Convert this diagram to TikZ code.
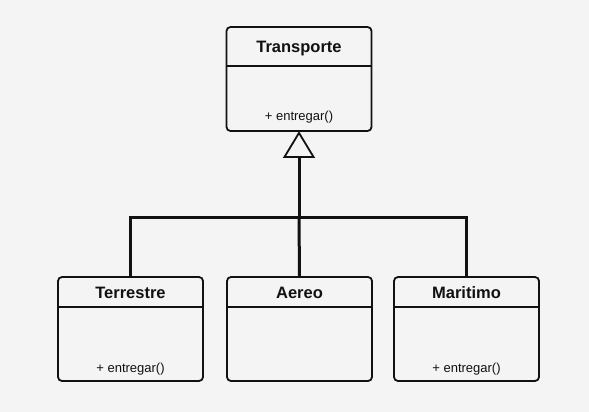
\documentclass[tikz,border=0pt]{standalone}
\usepackage{fontspec}
\setmainfont{Liberation Sans}
\definecolor{bg}{HTML}{F4F4F4}
\definecolor{ink}{HTML}{111111}
\begin{document}
\begin{tikzpicture}[x=1pt,y=1pt,
  cls/.style={draw=ink, line width=1.8pt, fill=bg, rounded corners=4pt, minimum width=145pt, minimum height=104pt, inner sep=0pt},
  title/.style={font=\fontsize{16.5}{19}\selectfont\bfseries, text=ink, inner sep=0pt, anchor=base},
  meth/.style={font=\fontsize{13}{15}\selectfont, text=ink, inner sep=0pt, anchor=base},
  div/.style={draw=ink, line width=1.3pt},
  conn/.style={draw=ink, line width=3pt, line join=miter},
  gen/.style={draw=ink, line width=1.8pt, fill=bg, line join=miter}]
\useasboundingbox[fill=bg] (0,0) rectangle (589,-412);
% parent class
\node[cls] (T) at (299,-79) {};
\node[title] (Tt) at ([yshift=-26pt]T.north) {Transporte};
\draw[div] ([yshift=-40pt]T.north west) -- ([yshift=-40pt]T.north east);
\node[meth] (Tm) at ([yshift=11.5pt]T.south) {+ entregar()};
% children
\node[cls] (Te) at (130.5,-329) {};
\node[title] (Tet) at ([yshift=-22pt]Te.north) {Terrestre};
\draw[div] ([yshift=-31pt]Te.north west) -- ([yshift=-31pt]Te.north east);
\node[meth] (Tem) at ([yshift=9.5pt]Te.south) {+ entregar()};
\node[cls] (A) at (299.5,-329) {};
\node[title] (At) at ([yshift=-22pt]A.north) {Aereo};
\draw[div] ([yshift=-31pt]A.north west) -- ([yshift=-31pt]A.north east);
\node[cls] (M) at (466.5,-329) {};
\node[title] (Mt) at ([yshift=-22pt]M.north) {Maritimo};
\draw[div] ([yshift=-31pt]M.north west) -- ([yshift=-31pt]M.north east);
\node[meth] (Mm) at ([yshift=9.5pt]M.south) {+ entregar()};
% generalization
\coordinate (apex) at ([yshift=-1pt]T.south);
\coordinate (tb) at ([yshift=-24pt]apex);
\coordinate (j) at (tb |- 0,-217);
\draw[conn] (tb) -- (j);
\draw[conn] (Te.north) |- (j) -| (M.north);
\draw[conn] (A.north) -- (j);
\draw[gen] (apex) -- ([xshift=-14.5pt]tb) -- ([xshift=14.5pt]tb) -- cycle;
\end{tikzpicture}
\end{document}
